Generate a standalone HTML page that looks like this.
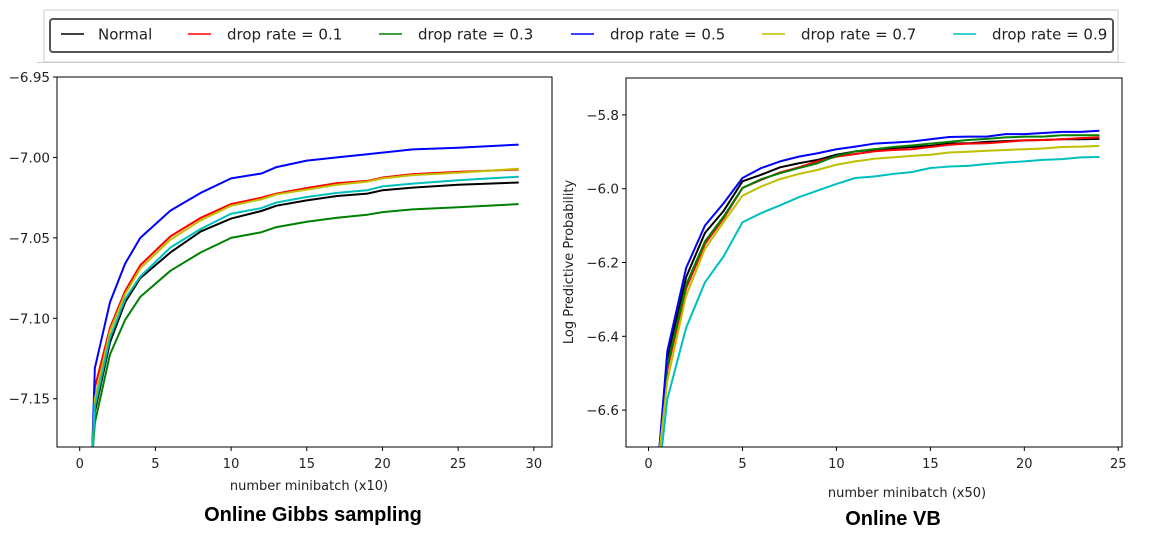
<!DOCTYPE html>
<html><head><meta charset="utf-8"><style>
html,body{margin:0;padding:0;background:#fff;}
svg{display:block;font-family:"DejaVu Sans","Liberation Sans",sans-serif;}
</style></head><body>
<svg id="fig" width="1154" height="553" viewBox="0 0 1154 553" xmlns="http://www.w3.org/2000/svg">
<defs>
<clipPath id="cl"><rect x="57" y="77" width="495" height="370"/></clipPath>
<clipPath id="cr"><rect x="626" y="78" width="496" height="369"/></clipPath>
</defs>
<g>
<rect x="44" y="10" width="1074" height="52" fill="#fff" stroke="#ccc" stroke-width="1"/>
<line x1="37" x2="1125" y1="62.5" y2="62.5" stroke="#ccc" stroke-width="1"/>
<rect x="50" y="19" width="1063" height="33" rx="3" fill="#fff" stroke="#555" stroke-width="2"/>
<g id="legend-items"></g>
</g>
<g id="left"></g>
<g id="right"></g>
<text x="313" y="521" text-anchor="middle" font-family="Liberation Sans, sans-serif" font-weight="bold" font-size="20">Online Gibbs sampling</text>
<text x="893" y="525" text-anchor="middle" font-family="Liberation Sans, sans-serif" font-weight="bold" font-size="20">Online VB</text>
</svg>
<script>
const seriesNames = ["Normal","drop rate = 0.1","drop rate = 0.3","drop rate = 0.5","drop rate = 0.7","drop rate = 0.9"];
const seriesKeys = ["normal","drop-0-1","drop-0-3","drop-0-5","drop-0-7","drop-0-9"];
const seriesColors = ["#000000","#ff0000","#008000","#0000ff","#bfbf00","#00bfbf"];

const gibbsX = [0.8,1,2,3,4,6,8,10,12,13,15,17,19,20,22,25,29];
const gibbsNormal = [-7.19,-7.158,-7.115,-7.090,-7.075,-7.059,-7.046,-7.038,-7.0333,-7.030,-7.0267,-7.024,-7.0225,-7.0204,-7.0188,-7.017,-7.0156];
const gibbsD01 = [-7.19,-7.143,-7.106,-7.083,-7.067,-7.049,-7.0375,-7.029,-7.025,-7.0225,-7.019,-7.016,-7.0146,-7.0125,-7.0104,-7.009,-7.0075];
const gibbsD03 = [-7.19,-7.165,-7.1225,-7.101,-7.0867,-7.0704,-7.059,-7.050,-7.0465,-7.0433,-7.040,-7.0375,-7.0356,-7.034,-7.0323,-7.031,-7.029];
const gibbsD05 = [-7.19,-7.131,-7.090,-7.066,-7.050,-7.033,-7.022,-7.013,-7.010,-7.006,-7.002,-7.000,-6.998,-6.997,-6.995,-6.994,-6.992];
const gibbsD07 = [-7.19,-7.150,-7.108,-7.085,-7.069,-7.051,-7.039,-7.030,-7.026,-7.023,-7.020,-7.017,-7.015,-7.013,-7.011,-7.0095,-7.007];
const gibbsD09 = [-7.19,-7.155,-7.112,-7.088,-7.074,-7.056,-7.0444,-7.035,-7.0315,-7.028,-7.0246,-7.022,-7.0204,-7.018,-7.0163,-7.0142,-7.012];
const gibbsXTicks = [0,5,10,15,20,25,30];
const gibbsYTicks = [-6.95,-7.00,-7.05,-7.10,-7.15];
const gibbsYLabels = ["\u22126.95","\u22127.00","\u22127.05","\u22127.10","\u22127.15"];

const vbX = [0.5,1,2,3,4,5,6,7,8,9,10,11,12,13,14,15,16,17,18,19,20,21,22,23,24];
const vbNormal = [-6.75,-6.46,-6.24,-6.12,-6.06,-5.98,-5.962,-5.942,-5.931,-5.922,-5.908,-5.899,-5.895,-5.890,-5.887,-5.884,-5.878,-5.877,-5.873,-5.871,-5.869,-5.868,-5.866,-5.866,-5.865];
const vbD01 = [-6.75,-6.49,-6.27,-6.15,-6.08,-5.998,-5.976,-5.956,-5.942,-5.926,-5.913,-5.906,-5.899,-5.895,-5.893,-5.887,-5.881,-5.878,-5.877,-5.873,-5.869,-5.868,-5.866,-5.863,-5.861];
const vbD03 = [-6.75,-6.48,-6.26,-6.143,-6.075,-5.998,-5.974,-5.958,-5.944,-5.931,-5.911,-5.899,-5.893,-5.887,-5.883,-5.878,-5.873,-5.868,-5.865,-5.861,-5.859,-5.859,-5.855,-5.855,-5.855];
const vbD05 = [-6.75,-6.44,-6.215,-6.10,-6.039,-5.971,-5.944,-5.926,-5.913,-5.904,-5.893,-5.886,-5.878,-5.875,-5.872,-5.866,-5.860,-5.859,-5.859,-5.852,-5.852,-5.849,-5.846,-5.846,-5.843];
const vbD07 = [-6.75,-6.52,-6.29,-6.163,-6.09,-6.019,-5.994,-5.974,-5.960,-5.949,-5.935,-5.926,-5.919,-5.915,-5.911,-5.908,-5.902,-5.900,-5.897,-5.895,-5.893,-5.891,-5.887,-5.886,-5.884];
const vbD09 = [-6.8,-6.57,-6.377,-6.254,-6.183,-6.091,-6.066,-6.045,-6.023,-6.005,-5.987,-5.971,-5.967,-5.960,-5.955,-5.944,-5.940,-5.938,-5.933,-5.929,-5.926,-5.922,-5.920,-5.915,-5.914];
const vbXTicks = [0,5,10,15,20,25];
const vbYTicks = [-5.8,-6.0,-6.2,-6.4,-6.6];
const vbYLabels = ["\u22125.8","\u22126.0","\u22126.2","\u22126.4","\u22126.6"];

const NS="http://www.w3.org/2000/svg";
function mk(tag, attrs, parent){const e=document.createElementNS(NS,tag);for(const k in attrs)e.setAttribute(k,attrs[k]);parent.appendChild(e);return e;}

const legendG=document.getElementById('legend-items');
const legLineX=[61,188,379,571,762,953];
for(let i=0;i<seriesNames.length;i++){
  const g=mk('g',{},legendG);
  
  
  const l=mk('line',{x1:legLineX[i],x2:legLineX[i]+23,y1:34,y2:34,stroke:seriesColors[i],'stroke-width':1.5},g);
  
  
  const t=mk('text',{x:legLineX[i]+(i===0?37:39),y:39.5,'font-size':15,fill:'#222'},g);
  t.textContent=seriesNames[i];
  
  
}

function chart(gid, box, xr, yr, xs, ys, xTicks, yTicks, yLabels, xLabel, yLabel, clip, prefix){
  const g=document.getElementById(gid);
  const sx=v=>box.x0+(v-xr[0])/(xr[1]-xr[0])*(box.x1-box.x0);
  const sy=v=>box.y1-(v-yr[0])/(yr[1]-yr[0])*(box.y1-box.y0);
  const lines=mk('g',{'clip-path':'url(#'+clip+')'},g);
  for(let i=0;i<ys.length;i++){
    const pts=xs.map((x,j)=>sx(x).toFixed(2)+','+sy(ys[i][j]).toFixed(2)).join(' ');
    const p=mk('polyline',{points:pts,fill:'none',stroke:seriesColors[i],'stroke-width':2,'stroke-linejoin':'round'},lines);
    
    
  }
  const frame=mk('rect',{x:box.x0,y:box.y0,width:box.x1-box.x0,height:box.y1-box.y0,fill:'none',stroke:'#000','stroke-width':1},g);
  
  
  for(const t of xTicks){
    const X=sx(t);
    mk('line',{x1:X,x2:X,y1:box.y1,y2:box.y1+4,stroke:'#000'},g);
    const tx=mk('text',{x:X,y:box.y1+21,'text-anchor':'middle','font-size':13,fill:'#222'},g);
    tx.textContent=t;
    
    
  }
  yTicks.forEach((t,i)=>{
    const Y=sy(t);
    mk('line',{x1:box.x0-4,x2:box.x0,y1:Y,y2:Y,stroke:'#000'},g);
    const ty=mk('text',{x:box.x0-7,y:Y+5,'text-anchor':'end','font-size':13.5,fill:'#222'},g);
    ty.textContent=yLabels[i];
    
    
  });
  const xl=mk('text',{x:xLabel.x,y:xLabel.y,'text-anchor':'middle','font-size':13,fill:'#222'},g);
  xl.textContent=xLabel.t;
  
  
  if(yLabel){
    const yl=mk('text',{x:0,y:0,'text-anchor':'middle','font-size':13,fill:'#222',transform:'translate('+yLabel.x+','+yLabel.y+') rotate(-90)'},g);
    yl.textContent=yLabel.t;
    
    
  }
}
chart('left',{x0:57,x1:552,y0:77,y1:447},[-1.5,31.2],[-7.18,-6.95],gibbsX,
  [gibbsNormal,gibbsD01,gibbsD03,gibbsD05,gibbsD07,gibbsD09],gibbsXTicks,gibbsYTicks,gibbsYLabels,
  {x:309,y:490,t:'number minibatch (x10)'},null,'cl','gibbs');
chart('right',{x0:626,x1:1122,y0:78,y1:447},[-1.2,25.2],[-6.7,-5.7],vbX,
  [vbNormal,vbD01,vbD03,vbD05,vbD07,vbD09],vbXTicks,vbYTicks,vbYLabels,
  {x:907,y:497,t:'number minibatch (x50)'},{x:573,y:262,t:'Log Predictive Probability'},'cr','vb');
</script>
</body></html>
